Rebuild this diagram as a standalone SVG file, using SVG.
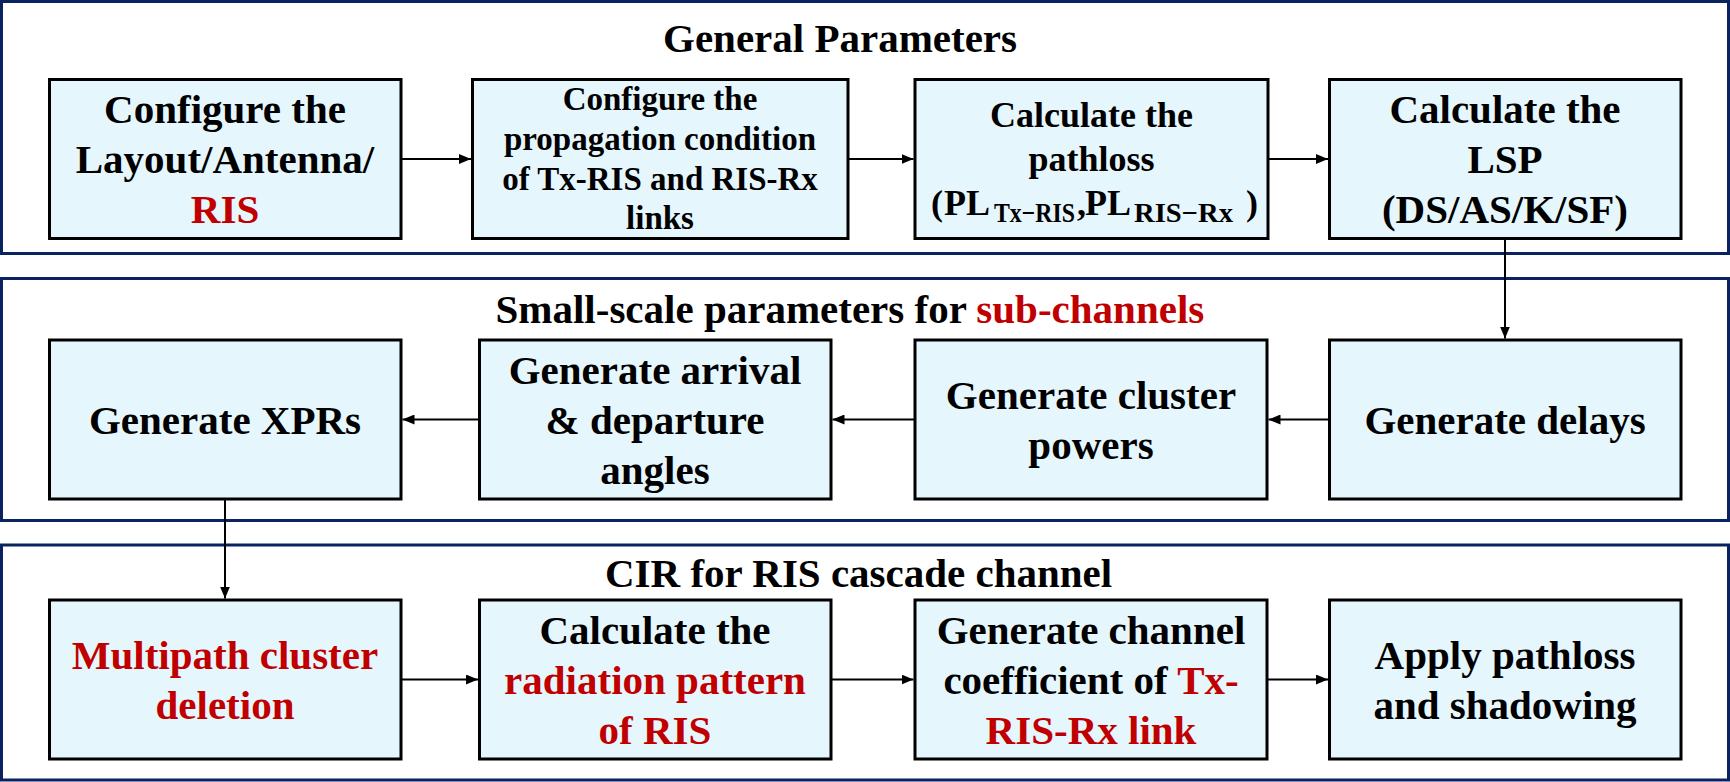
<svg xmlns="http://www.w3.org/2000/svg" width="1730" height="782" viewBox="0 0 1730 782">
<style>
.frame{fill:#ffffff;stroke:#0b2260;stroke-width:3}
.box{fill:#e6f6fd;stroke:#000000;stroke-width:3}
.t{font-family:"Liberation Serif","Times New Roman",serif;font-weight:bold;fill:#000000;text-anchor:middle}
.s{font-family:"Liberation Serif","Times New Roman",serif;font-weight:bold;fill:#000000}
.f41{font-size:41px}
.f36{font-size:36px}
.f33{font-size:33px}
.f28{font-size:28px}
.red{fill:#c00000}
.title{font-family:"Liberation Serif","Times New Roman",serif;font-weight:bold;font-size:41px;fill:#000000}
.conn{stroke:#000000;stroke-width:2;fill:none;marker-end:url(#ah)}
</style>
<defs>
<marker id="ah" markerUnits="userSpaceOnUse" markerWidth="12" markerHeight="10" refX="12" refY="5" orient="auto">
<path d="M0,0 L12,5 L0,10 z" fill="#000000"/>
</marker>
</defs>
<rect width="1730" height="782" fill="#ffffff"/>

<g id="section-general">
<rect class="frame" x="1.5" y="1.5" width="1727" height="252"/>
<text class="title" x="663" y="52">General Parameters</text>
</g>
<g id="section-small">
<rect class="frame" x="1.5" y="278.5" width="1727" height="242"/>
<text class="title" x="495.5" y="322.5">Small-scale parameters for <tspan class="red">sub-channels</tspan></text>
</g>
<g id="section-cir">
<rect class="frame" x="1.5" y="545" width="1727" height="235"/>
<text class="title" x="605" y="586.5">CIR for RIS cascade channel</text>
</g>

<g id="connectors">
<line class="conn" x1="401" y1="159" x2="471" y2="159"/>
<line class="conn" x1="848" y1="159" x2="913.5" y2="159"/>
<line class="conn" x1="1268" y1="159" x2="1328" y2="159"/>
<line class="conn" x1="1505" y1="238.5" x2="1505" y2="338.5"/>
<line class="conn" x1="1329.5" y1="419.5" x2="1268.5" y2="419.5"/>
<line class="conn" x1="915" y1="419.5" x2="832.5" y2="419.5"/>
<line class="conn" x1="479.5" y1="419.5" x2="402.5" y2="419.5"/>
<line class="conn" x1="225" y1="499" x2="225" y2="598.5"/>
<line class="conn" x1="401" y1="679.5" x2="478" y2="679.5"/>
<line class="conn" x1="831" y1="679.5" x2="913.5" y2="679.5"/>
<line class="conn" x1="1267" y1="679.5" x2="1328" y2="679.5"/>
</g>

<g id="n-layout">
<rect class="box" x="49.5" y="79.5" width="351.5" height="159"/>
<text class="t f41" x="225" y="123">Configure the</text>
<text class="t f41" x="225" y="173">Layout/Antenna/</text>
<text class="t f41 red" x="225" y="223">RIS</text>
</g>
<g id="n-propagation">
<rect class="box" x="472.5" y="79.5" width="375.5" height="159"/>
<text class="t f33" x="660" y="110">Configure the</text>
<text class="t f33" x="660" y="149.5">propagation condition</text>
<text class="t f33" x="660" y="189.5">of Tx-RIS and RIS-Rx</text>
<text class="t f33" x="660" y="229">links</text>
</g>
<g id="n-pathloss">
<rect class="box" x="915" y="79.5" width="353" height="159"/>
<text class="t f36" x="1091.5" y="127">Calculate the</text>
<text class="t f36" x="1091.5" y="170.5">pathloss</text>
<text class="s f36" x="931" y="214.5">(</text>
<text class="s f36" x="944" y="214.5">PL</text>
<text class="s f28" x="994" y="221.5" textLength="81" lengthAdjust="spacingAndGlyphs">Tx−RIS</text>
<text class="s f36" x="1077" y="214.5">,</text>
<text class="s f36" x="1085" y="214.5">PL</text>
<text class="s f28" x="1134" y="221.5" textLength="99" lengthAdjust="spacingAndGlyphs">RIS−Rx</text>
<text class="s f36" x="1246" y="214.5">)</text>
</g>
<g id="n-lsp">
<rect class="box" x="1329.5" y="79.5" width="351.5" height="159"/>
<text class="t f41" x="1505" y="123">Calculate the</text>
<text class="t f41" x="1505" y="173">LSP</text>
<text class="t f41" x="1505" y="223">(DS/AS/K/SF)</text>
</g>

<g id="n-xpr">
<rect class="box" x="49.5" y="340" width="351.5" height="159"/>
<text class="t f41" x="225" y="433.5">Generate XPRs</text>
</g>
<g id="n-angles">
<rect class="box" x="479.5" y="340" width="351.5" height="159"/>
<text class="t f41" x="655" y="383.5">Generate arrival</text>
<text class="t f41" x="655" y="433.5">&amp; departure</text>
<text class="t f41" x="655" y="483.5">angles</text>
</g>
<g id="n-powers">
<rect class="box" x="915" y="340" width="352" height="159"/>
<text class="t f41" x="1091" y="408.5">Generate cluster</text>
<text class="t f41" x="1091" y="458.5">powers</text>
</g>
<g id="n-delays">
<rect class="box" x="1329.5" y="340" width="351.5" height="159"/>
<text class="t f41" x="1505" y="433.5">Generate delays</text>
</g>

<g id="n-deletion">
<rect class="box" x="49.5" y="600" width="351.5" height="159"/>
<text class="t f41 red" x="225" y="668.5">Multipath cluster</text>
<text class="t f41 red" x="225" y="718.5">deletion</text>
</g>
<g id="n-radiation">
<rect class="box" x="479.5" y="600" width="351.5" height="159"/>
<text class="t f41" x="655" y="643.5">Calculate the</text>
<text class="t f41 red" x="655" y="693.5">radiation pattern</text>
<text class="t f41 red" x="655" y="743.5">of RIS</text>
</g>
<g id="n-coefficient">
<rect class="box" x="915" y="600" width="352" height="159"/>
<text class="t f41" x="1091" y="643.5">Generate channel</text>
<text class="t f41" x="1091" y="693.5">coefficient of <tspan class="red">Tx-</tspan></text>
<text class="t f41 red" x="1091" y="743.5">RIS-Rx link</text>
</g>
<g id="n-apply">
<rect class="box" x="1329.5" y="600" width="351.5" height="159"/>
<text class="t f41" x="1505" y="668.5">Apply pathloss</text>
<text class="t f41" x="1505" y="718.5">and shadowing</text>
</g>
</svg>
